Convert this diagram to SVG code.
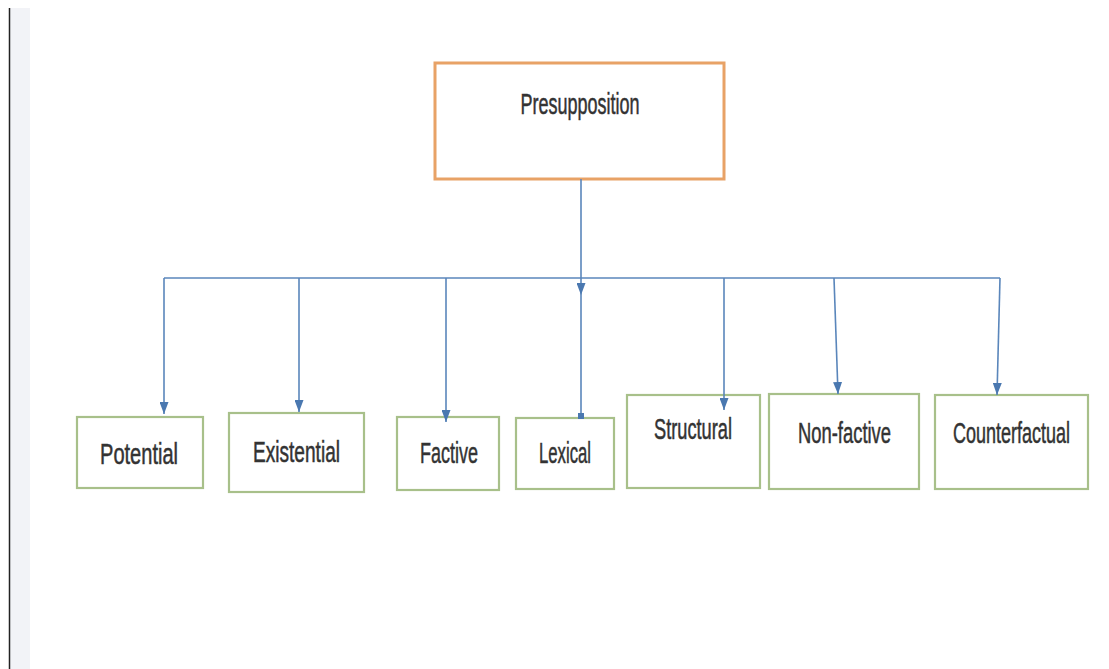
<svg xmlns="http://www.w3.org/2000/svg" width="1109" height="669" viewBox="0 0 1109 669">
<defs>
<marker id="arrow" markerUnits="userSpaceOnUse" markerWidth="12" markerHeight="9" viewBox="0 0 12 9" refX="12" refY="4.5" orient="auto">
<path d="M0,0 L12,4.5 L0,9 z" fill="#4a78b0"/>
</marker>
<marker id="dot" markerUnits="userSpaceOnUse" markerWidth="6" markerHeight="6" viewBox="0 0 6 6" refX="3" refY="3" orient="auto">
<rect x="0" y="0" width="6" height="6" fill="#4a78b0"/>
</marker>
</defs>
<style>
.box{fill:#ffffff;stroke:#a8c08a;stroke-width:2.2}
.root{fill:#ffffff;stroke:#e8a266;stroke-width:3}
.lbl{font-family:"Liberation Sans",Arial,sans-serif;fill:#333333;stroke:#333333;stroke-width:0.35;text-anchor:middle;font-size:20px}
.conn{fill:none;stroke:#5a86bb;stroke-width:1.6}
</style>
<rect x="0" y="0" width="1109" height="669" fill="#ffffff"/>
<rect x="10" y="8" width="20" height="661" fill="#f2f3f7"/>
<line x1="9.5" y1="8" x2="9.5" y2="669" stroke="#222" stroke-width="1.5"/>

<g id="presupposition">
<rect class="root" x="435" y="63" width="289" height="116"/>
<text class="lbl" transform="translate(580,114) scale(1,1.5)" x="0" y="0" textLength="119" lengthAdjust="spacingAndGlyphs">Presupposition</text>
</g>
<g id="potential">
<rect class="box" x="77" y="417" width="126" height="71"/>
<text class="lbl" transform="translate(139,464) scale(1,1.45)" x="0" y="0" textLength="78" lengthAdjust="spacingAndGlyphs">Potential</text>
</g>
<g id="existential">
<rect class="box" x="229" y="413" width="135" height="79"/>
<text class="lbl" transform="translate(296.5,462) scale(1,1.5)" x="0" y="0" textLength="87" lengthAdjust="spacingAndGlyphs">Existential</text>
</g>
<g id="factive">
<rect class="box" x="397" y="417" width="102" height="73"/>
<text class="lbl" transform="translate(449,463) scale(1,1.5)" x="0" y="0" textLength="58" lengthAdjust="spacingAndGlyphs">Factive</text>
</g>
<g id="lexical">
<rect class="box" x="516" y="418" width="98" height="71"/>
<text class="lbl" transform="translate(565,463) scale(1,1.45)" x="0" y="0" textLength="52" lengthAdjust="spacingAndGlyphs">Lexical</text>
</g>
<g id="structural">
<rect class="box" x="627" y="395" width="133" height="93"/>
<text class="lbl" transform="translate(693,439) scale(1,1.45)" x="0" y="0" font-size="17" textLength="78" lengthAdjust="spacingAndGlyphs">Structural</text>
</g>
<g id="non-factive">
<rect class="box" x="769" y="394" width="150" height="95"/>
<text class="lbl" transform="translate(844.5,443) scale(1,1.45)" x="0" y="0" textLength="93" lengthAdjust="spacingAndGlyphs">Non-factive</text>
</g>
<g id="counterfactual">
<rect class="box" x="935" y="395" width="153" height="94"/>
<text class="lbl" transform="translate(1011.5,443) scale(1,1.45)" x="0" y="0" textLength="117" lengthAdjust="spacingAndGlyphs">Counterfactual</text>
</g>

<g id="connectors">
<path class="conn" d="M581 179 V295" marker-end="url(#arrow)"/>
<path class="conn" d="M581 295 V416" marker-end="url(#dot)"/>
<path class="conn" d="M164 278 H1000"/>
<path class="conn" d="M164 278 V414" marker-end="url(#arrow)"/>
<path class="conn" d="M299 278 V412" marker-end="url(#arrow)"/>
<path class="conn" d="M446 278 V422" marker-end="url(#arrow)"/>
<path class="conn" d="M724 278 V410" marker-end="url(#arrow)"/>
<path class="conn" d="M834 278 L838 394" marker-end="url(#arrow)"/>
<path class="conn" d="M1000 278 L997 395" marker-end="url(#arrow)"/>
</g>
</svg>
